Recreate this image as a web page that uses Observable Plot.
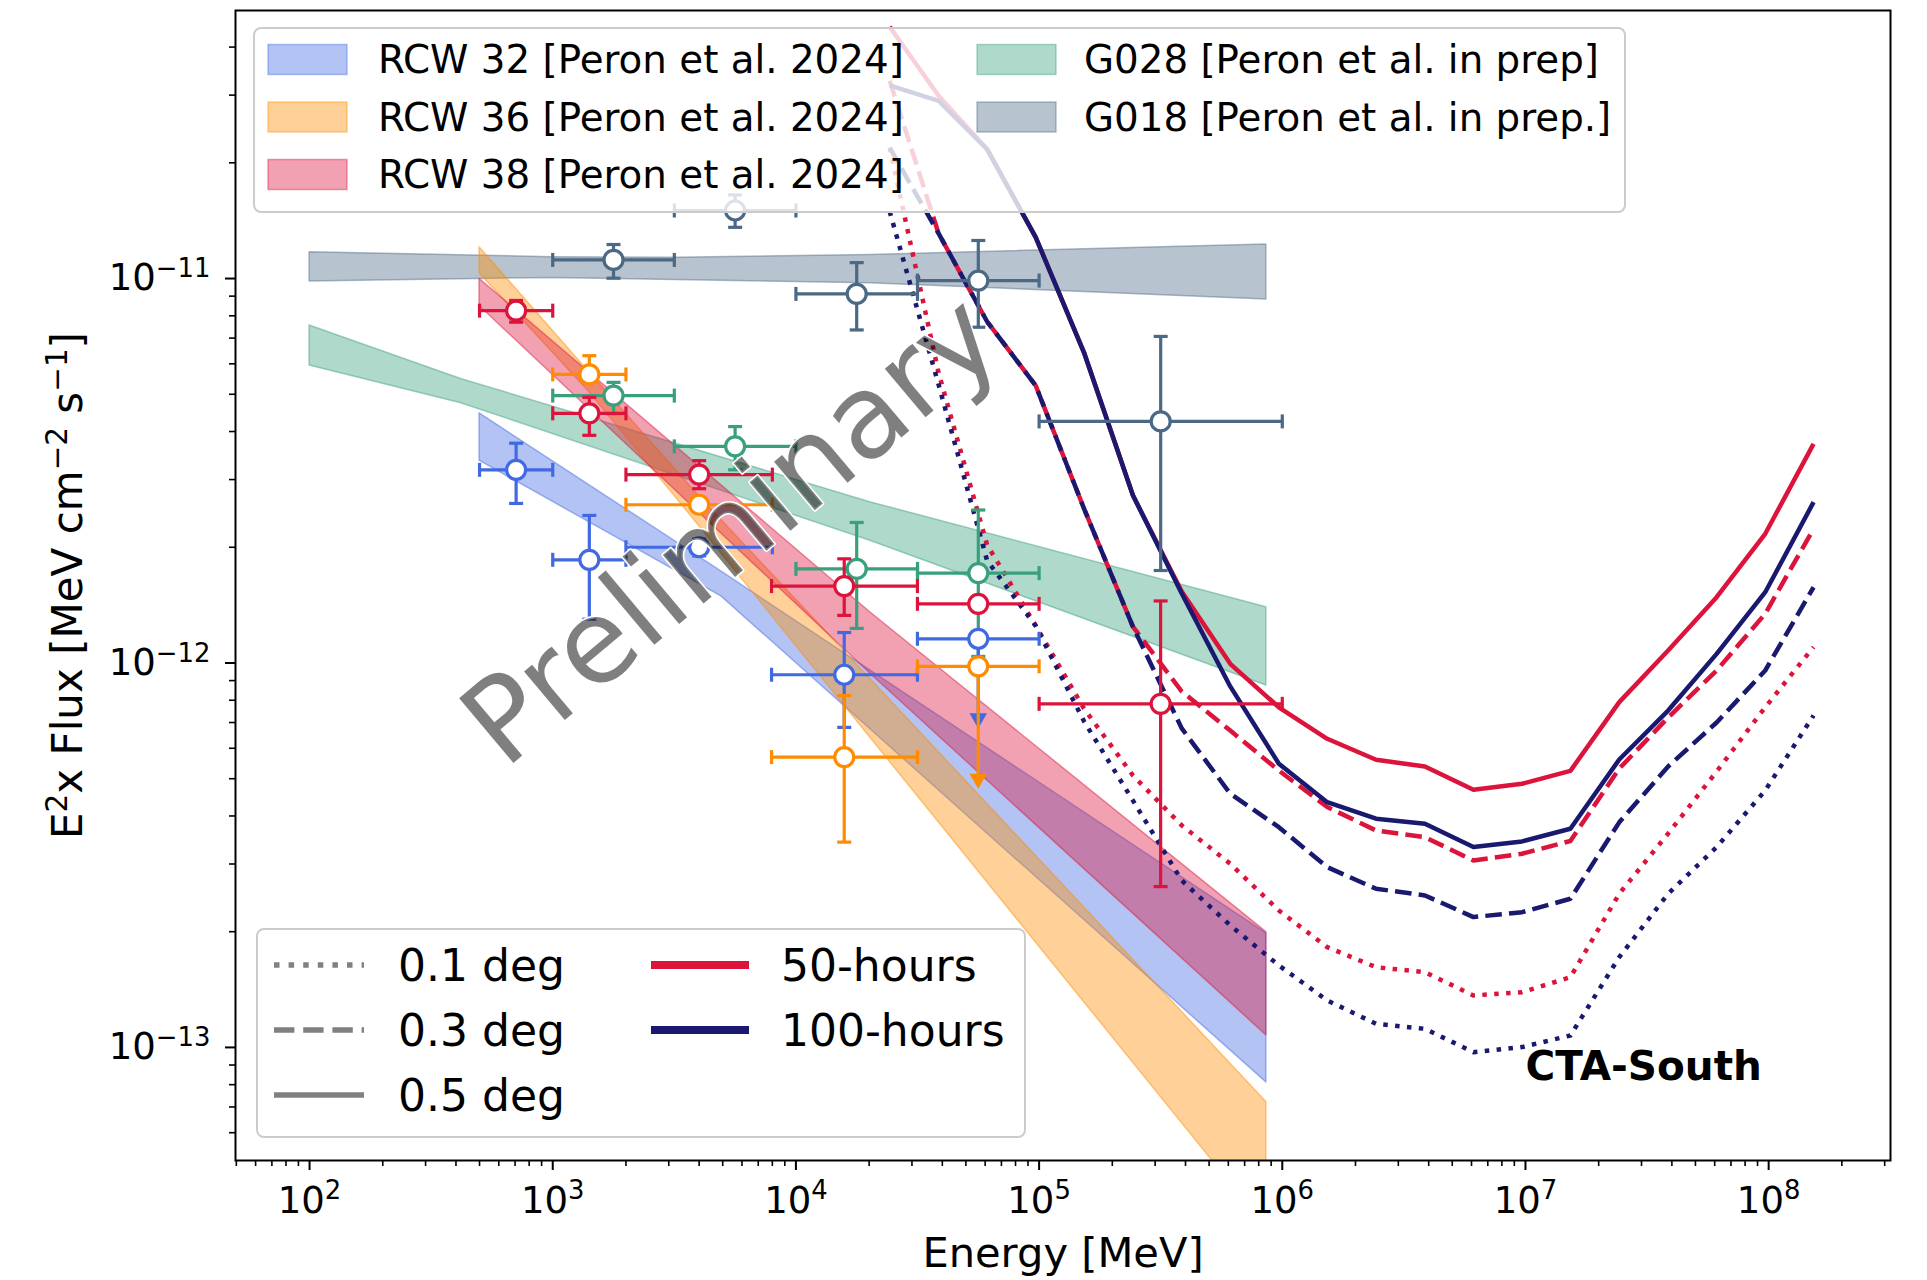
<!DOCTYPE html>
<html>
<head>
<meta charset="utf-8">
<script src="https://cdn.jsdelivr.net/npm/d3@7"></script>
<script src="https://cdn.jsdelivr.net/npm/@observablehq/plot@0.6"></script>
<style>
  html, body { margin: 0; padding: 0; background: #fff; overflow: hidden; }
  #chart { width: 1927px; height: 1280px; }
</style>
</head>
<body>
<div id="chart"></div>
<script>
// ---------------- DATA ----------------
// Axis ticks
const xTicks = [1e2, 1e3, 1e4, 1e5, 1e6, 1e7, 1e8];
const yTicks = [1e-13, 1e-12, 1e-11];

// Colours
const cRCW32 = "#4169e1", cRCW36 = "#ff8c00", cRCW38 = "#dc143c", cG028 = "#38a07a", cG018 = "#4b6885";
const c50h = "#dc143c", c100h = "#191970";

// Power-law bands: [E (MeV), lower, upper]
const g018Band = [[100, 9.82e-12, 1.171e-11], [1000, 1.004e-11, 1.136e-11], [3160, 9.92e-12, 1.132e-11], [2.02e4, 9.72e-12, 1.152e-11], [8.6e5, 8.82e-12, 1.226e-11]];
const g028Band = [[100, 5.94e-12, 7.55e-12], [420, 4.74e-12, 5.48e-12], [2.02e4, 2.08e-12, 2.62e-12], [8.6e5, 8.74e-13, 1.397e-12]];
const rcw32Band = [[500, 3.36e-12, 4.46e-12], [4935, 1.49e-12, 1.73e-12], [8.6e5, 8.11e-14, 1.98e-13]];
const rcw36Band = [[500, 1.032e-11, 1.206e-11], [1419, 5.05e-12, 5.69e-12], [3960, 2.289e-12, 2.734e-12], [1.566e4, 7.81e-13, 1.08e-12], [8.6e5, 3.4e-14, 7.21e-14]];
const rcw38Band = [[500, 8.48e-12, 9.98e-12], [2.02e4, 9.39e-13, 1.355e-12], [8.6e5, 1.075e-13, 1.995e-13]];

// Flux points: [E, F, Emin, Emax, Fmin, Fmax]
const rcw32Pts = [[707, 3.18e-12, 500, 1000, 2.6e-12, 3.73e-12], [1414, 1.855e-12, 1000, 2000, 1.3e-12, 2.42e-12], [4000, 2.0e-12, 2000, 8000, 1.9e-12, 2.1e-12], [1.58e4, 9.32e-13, 7940, 3.16e4, 6.8e-13, 1.2e-12]];
const rcw36Pts = [[1414, 5.63e-12, 1000, 2000, 5.37e-12, 6.3e-12], [4000, 2.58e-12, 2000, 8000, null, null], [1.58e4, 5.69e-13, 7940, 3.16e4, 3.42e-13, 8.23e-13]];
const rcw38Pts = [[707, 8.25e-12, 500, 1000, 7.7e-12, 8.77e-12], [1414, 4.46e-12, 1000, 2000, 3.91e-12, 4.91e-12], [4000, 3.09e-12, 2000, 8000, 2.84e-12, 3.36e-12], [1.58e4, 1.585e-12, 7940, 3.16e4, 1.33e-12, 1.866e-12], [5.62e4, 1.425e-12, 3.16e4, 1e5, null, null], [3.16e5, 7.83e-13, 1e5, 1e6, 2.62e-13, 1.45e-12]];
const g028Pts = [[1778, 4.96e-12, 1000, 3162, 4.45e-12, 5.37e-12], [5623, 3.66e-12, 3162, 1e4, 3.18e-12, 4.12e-12], [1.778e4, 1.757e-12, 1e4, 3.162e4, 1.23e-12, 2.32e-12], [5.623e4, 1.713e-12, 3.162e4, 1e5, 1.04e-12, 2.5e-12]];
const g018Pts = [[1778, 1.118e-11, 1000, 3162, 1.002e-11, 1.226e-11], [5623, 1.503e-11, 3162, 1e4, 1.359e-11, 1.65e-11], [1.778e4, 9.12e-12, 1e4, 3.162e4, 7.35e-12, 1.1e-11], [5.623e4, 9.88e-12, 3.162e4, 1e5, 7.47e-12, 1.256e-11], [3.162e5, 4.25e-12, 1e5, 1e6, 1.74e-12, 7.07e-12]];
// Upper limits: [E, F, Emin, Emax, arrow tip]
const rcw32UL = [[5.62e4, 1.156e-12, 3.16e4, 1e5, 7.18e-13]];
const rcw36UL = [[5.62e4, 9.8e-13, 3.16e4, 1e5, 5.0e-13]];

// CTA-South sensitivity curves
const sensE = [2.43e4, 3.86e4, 6.11e4, 9.68e4, 1.53e5, 2.43e5, 3.86e5, 6.11e5, 9.68e5, 1.53e6, 2.43e6, 3.86e6, 6.11e6, 9.68e6, 1.53e7, 2.43e7, 3.86e7, 6.11e7, 9.68e7, 1.53e8];
const sens50_05 = [4.52e-11, 2.99e-11, 2.17e-11, 1.28e-11, 6.42e-12, 2.73e-12, 1.535e-12, 9.95e-13, 7.67e-13, 6.35e-13, 5.6e-13, 5.38e-13, 4.68e-13, 4.85e-13, 5.24e-13, 7.91e-13, 1.078e-12, 1.483e-12, 2.168e-12, 3.715e-12];
const sens100_05 = [3.18e-11, 2.9e-11, 2.17e-11, 1.281e-11, 6.42e-12, 2.73e-12, 1.516e-12, 8.69e-13, 5.47e-13, 4.345e-13, 3.934e-13, 3.818e-13, 3.32e-13, 3.435e-13, 3.705e-13, 5.61e-13, 7.52e-13, 1.056e-12, 1.528e-12, 2.62e-12];
const sens50_03 = [3.27e-11, 1.31e-11, 7.73e-12, 5.27e-12, 2.52e-12, 1.244e-12, 8.43e-13, 6.67e-13, 5.25e-13, 4.22e-13, 3.667e-13, 3.523e-13, 3.063e-13, 3.19e-13, 3.444e-13, 5.31e-13, 7.21e-13, 9.56e-13, 1.343e-12, 2.234e-12];
const sens100_03 = [2.19e-11, 1.31e-11, 7.73e-12, 5.27e-12, 2.52e-12, 1.244e-12, 6.76e-13, 4.57e-13, 3.74e-13, 2.944e-13, 2.587e-13, 2.485e-13, 2.183e-13, 2.248e-13, 2.436e-13, 3.85e-13, 5.38e-13, 7.0e-13, 9.56e-13, 1.574e-12];
const sens50_01 = [2.19e-11, 5.69e-12, 2.03e-12, 1.252e-12, 7.61e-13, 5.1e-13, 3.78e-13, 3.004e-13, 2.271e-13, 1.823e-13, 1.617e-13, 1.569e-13, 1.365e-13, 1.392e-13, 1.523e-13, 2.51e-13, 3.6e-13, 5.22e-13, 7.67e-13, 1.1e-12];
const sens100_01 = [1.494e-11, 5.3e-12, 1.848e-12, 1.248e-12, 7.05e-13, 4.39e-13, 2.718e-13, 2.077e-13, 1.634e-13, 1.325e-13, 1.152e-13, 1.118e-13, 9.72e-14, 1.002e-13, 1.074e-13, 1.717e-13, 2.51e-13, 3.32e-13, 4.66e-13, 7.3e-13];

// Legend labels
const sourceLabels = ["RCW 32 [Peron et al. 2024]", "RCW 36 [Peron et al. 2024]", "RCW 38 [Peron et al. 2024]", "G028 [Peron et al. in prep]", "G018 [Peron et al. in prep.]"];
const sourceColors = [cRCW32, cRCW36, cRCW38, cG028, cG018];
const radiusLabels = ["0.1 deg", "0.3 deg", "0.5 deg"];
const timeLabels = ["50-hours", "100-hours"];

// ---------------- STYLE HELPERS ----------------
const DOTTED = "4.5,7.4", DASHED = "16.6,7.2";
const vCap = { draw(ctx, size) { const r = Math.sqrt(size / Math.PI); ctx.moveTo(0, -r); ctx.lineTo(0, r); } };
const hCap = { draw(ctx, size) { const r = Math.sqrt(size / Math.PI); ctx.moveTo(-r, 0); ctx.lineTo(r, 0); } };

function band(data, color) {
  return Plot.areaY(data, { x: d => d[0], y1: d => d[1], y2: d => d[2], fill: color, fillOpacity: 0.4, stroke: color, strokeOpacity: 0.45, strokeWidth: 1.5, clip: true });
}
function curve(vals, color, dash) {
  const data = sensE.map((e, i) => [e, vals[i]]);
  return Plot.line(data, { x: d => d[0], y: d => d[1], stroke: color, strokeWidth: 4.5, strokeDasharray: dash, strokeLinecap: "butt", strokeLinejoin: "round", clip: true });
}
function points(rows, color, uls = []) {
  const yr = rows.filter(d => d[4] != null);
  const all = rows.concat(uls);
  return [
    Plot.link(all, { x1: d => d[2], x2: d => d[3], y1: d => d[1], y2: d => d[1], stroke: color, strokeWidth: 3.2 }),
    Plot.link(yr, { x1: d => d[0], x2: d => d[0], y1: d => d[4], y2: d => d[5], stroke: color, strokeWidth: 3.2 }),
    Plot.link(uls, { x1: d => d[0], x2: d => d[0], y1: d => d[1], y2: d => d[4], stroke: color, strokeWidth: 3.2 }),
    Plot.dot(uls, { x: d => d[0], y: d => d[4], symbol: "triangle", rotate: 180, r: 6.5, fill: color, stroke: "none" }),
    Plot.dot(all.flatMap(d => [[d[2], d[1]], [d[3], d[1]]]), { x: d => d[0], y: d => d[1], symbol: vCap, r: 7, fill: "none", stroke: color, strokeWidth: 3.2 }),
    Plot.dot(yr.flatMap(d => [[d[0], d[4]], [d[0], d[5]]]), { x: d => d[0], y: d => d[1], symbol: hCap, r: 7, fill: "none", stroke: color, strokeWidth: 3.2 }),
    Plot.dot(all, { x: d => d[0], y: d => d[1], r: 9.5, fill: "white", stroke: color, strokeWidth: 3.2 })
  ];
}

const xDomain = [49.6, 3.17e8], yDomain = [5.08e-14, 4.98e-11];
const xMinor = [], yMinor = [];
for (let p = 1; p <= 8; p++) for (let m = 2; m <= 9; m++) { const v = m * 10 ** p; if (v > xDomain[0] && v < xDomain[1]) xMinor.push(v); }
for (let p = -14; p <= -11; p++) for (let m = 2; m <= 9; m++) { const v = m * 10 ** p; if (v > yDomain[0] && v < yDomain[1]) yMinor.push(v); }
const expFmt = d => "10^{" + String(Math.round(Math.log10(d))).replace("-", "\u2212") + "}";

const chart = Plot.plot({
  width: 1927, height: 1280,
  marginLeft: 235, marginRight: 37, marginTop: 10, marginBottom: 120,
  style: { fontFamily: "DejaVu Sans", fontSize: "37px", background: "white", color: "black", overflow: "visible" },
  x: { type: "log", domain: xDomain, label: null },
  y: { type: "log", domain: yDomain, label: null },
  marks: [
    band(g018Band, cG018), band(g028Band, cG028), band(rcw32Band, cRCW32), band(rcw36Band, cRCW36), band(rcw38Band, cRCW38),
    curve(sens50_01, c50h, DOTTED), curve(sens50_03, c50h, DASHED), curve(sens50_05, c50h, null),
    curve(sens100_01, c100h, DOTTED), curve(sens100_03, c100h, DASHED), curve(sens100_05, c100h, null),
    ...points(g018Pts, cG018), ...points(g028Pts, cG028),
    ...points(rcw32Pts, cRCW32, rcw32UL), ...points(rcw36Pts, cRCW36, rcw36UL), ...points(rcw38Pts, cRCW38),
    Plot.text([0], { x: 1e7, y: 8.9e-14, text: () => "CTA-South", textAnchor: "start", fontWeight: "bold", fontSize: 40.5, fill: "black" }),
    Plot.text([0], { x: 5.45e3, y: 2.2e-12, text: () => "Preliminary", rotate: -40, fontSize: 116, fill: "black", fillOpacity: 0.5, stroke: "white", strokeWidth: 3 }),
    Plot.axisX({ ticks: xTicks, tickSize: 10, tickPadding: 16, tickFormat: expFmt, label: null, strokeWidth: 2, fontSize: 37 }),
    Plot.axisX({ ticks: xMinor, tickSize: 6, tickFormat: () => "", label: null, strokeWidth: 1.6 }),
    Plot.axisY({ ticks: yTicks, tickSize: 10, tickPadding: 15, tickFormat: expFmt, label: null, strokeWidth: 2, fontSize: 37 }),
    Plot.axisY({ ticks: yMinor, tickSize: 6, tickFormat: () => "", label: null, strokeWidth: 1.6 }),
    Plot.text([0], { frameAnchor: "bottom", dy: 93, lineAnchor: "middle", textAnchor: "middle", text: () => "Energy [MeV]", fontSize: 41.6, fill: "black" }),
    Plot.text([0], { frameAnchor: "left", dx: -167, rotate: -90, lineAnchor: "middle", textAnchor: "middle", text: () => "E^{2}x Flux [MeV cm^{\u22122} s^{\u22121}]", fontSize: 42, fill: "black" }),
    Plot.frame({ stroke: "black", strokeWidth: 2 })
  ]
});
document.getElementById("chart").appendChild(chart);

// ---- superscripts (mathtext-like) ----
const NS = "http://www.w3.org/2000/svg";
chart.querySelectorAll("text").forEach(t => {
  const s = t.textContent;
  if (!s || !s.includes("^{")) return;
  const fs = parseFloat(getComputedStyle(t).fontSize) || 37;
  while (t.firstChild) t.removeChild(t.firstChild);
  let cur = 0;
  s.split(/(\^\{[^}]*\})/).forEach(p => {
    if (!p) return;
    const ts = document.createElementNS(NS, "tspan");
    if (p.startsWith("^{")) {
      ts.textContent = p.slice(2, -1);
      ts.setAttribute("font-size", (0.7 * fs) + "px");
      const target = -0.36 * fs;
      ts.setAttribute("dy", target - cur); cur = target;
    } else {
      ts.textContent = p;
      ts.setAttribute("dy", 0 - cur); cur = 0;
    }
    t.appendChild(ts);
  });
});

// ---- legends ----
const svg = d3.select(chart);
const lg = svg.append("g").attr("font-family", "DejaVu Sans").attr("fill", "black").attr("text-anchor", "start");
// upper legend (sources)
lg.append("rect").attr("x", 254).attr("y", 28).attr("width", 1371).attr("height", 184).attr("rx", 7)
  .attr("fill", "white").attr("fill-opacity", 0.8).attr("stroke", "#cccccc").attr("stroke-width", 2);
const upCols = [{ px: 268, tx: 378 }, { px: 977, tx: 1084 }], upRows = [59.5, 117, 174.5];
sourceLabels.forEach((lab, i) => {
  const col = i < 3 ? 0 : 1, row = i < 3 ? i : i - 3;
  const cy = upRows[row];
  lg.append("rect").attr("x", upCols[col].px).attr("y", cy - 15).attr("width", 79).attr("height", 30)
    .attr("fill", sourceColors[i]).attr("fill-opacity", 0.4).attr("stroke", sourceColors[i]).attr("stroke-opacity", 0.4).attr("stroke-width", 1.5);
  lg.append("text").attr("x", upCols[col].tx).attr("y", cy).attr("dy", "0.36em").attr("font-size", 38.8).attr("text-anchor", "start").text(lab);
});
// lower legend (radius / time)
lg.append("rect").attr("x", 257).attr("y", 929).attr("width", 768).attr("height", 208).attr("rx", 7)
  .attr("fill", "white").attr("fill-opacity", 0.8).attr("stroke", "#cccccc").attr("stroke-width", 2);
const loRows = [965, 1030, 1095];
const grayDash = ["5.5,9.1", "20.4,8.8", null];
radiusLabels.forEach((lab, i) => {
  const l = lg.append("line").attr("x1", 274).attr("x2", 364).attr("y1", loRows[i]).attr("y2", loRows[i])
    .attr("stroke", "#808080").attr("stroke-width", 5.5);
  if (grayDash[i]) l.attr("stroke-dasharray", grayDash[i]);
  lg.append("text").attr("x", 398).attr("y", loRows[i]).attr("dy", "0.36em").attr("font-size", 44).attr("text-anchor", "start").text(lab);
});
[c50h, c100h].forEach((c, i) => {
  lg.append("line").attr("x1", 651).attr("x2", 749).attr("y1", loRows[i]).attr("y2", loRows[i])
    .attr("stroke", c).attr("stroke-width", 8);
  lg.append("text").attr("x", 781).attr("y", loRows[i]).attr("dy", "0.36em").attr("font-size", 44).attr("text-anchor", "start").text(timeLabels[i]);
});
</script>
</body>
</html>
